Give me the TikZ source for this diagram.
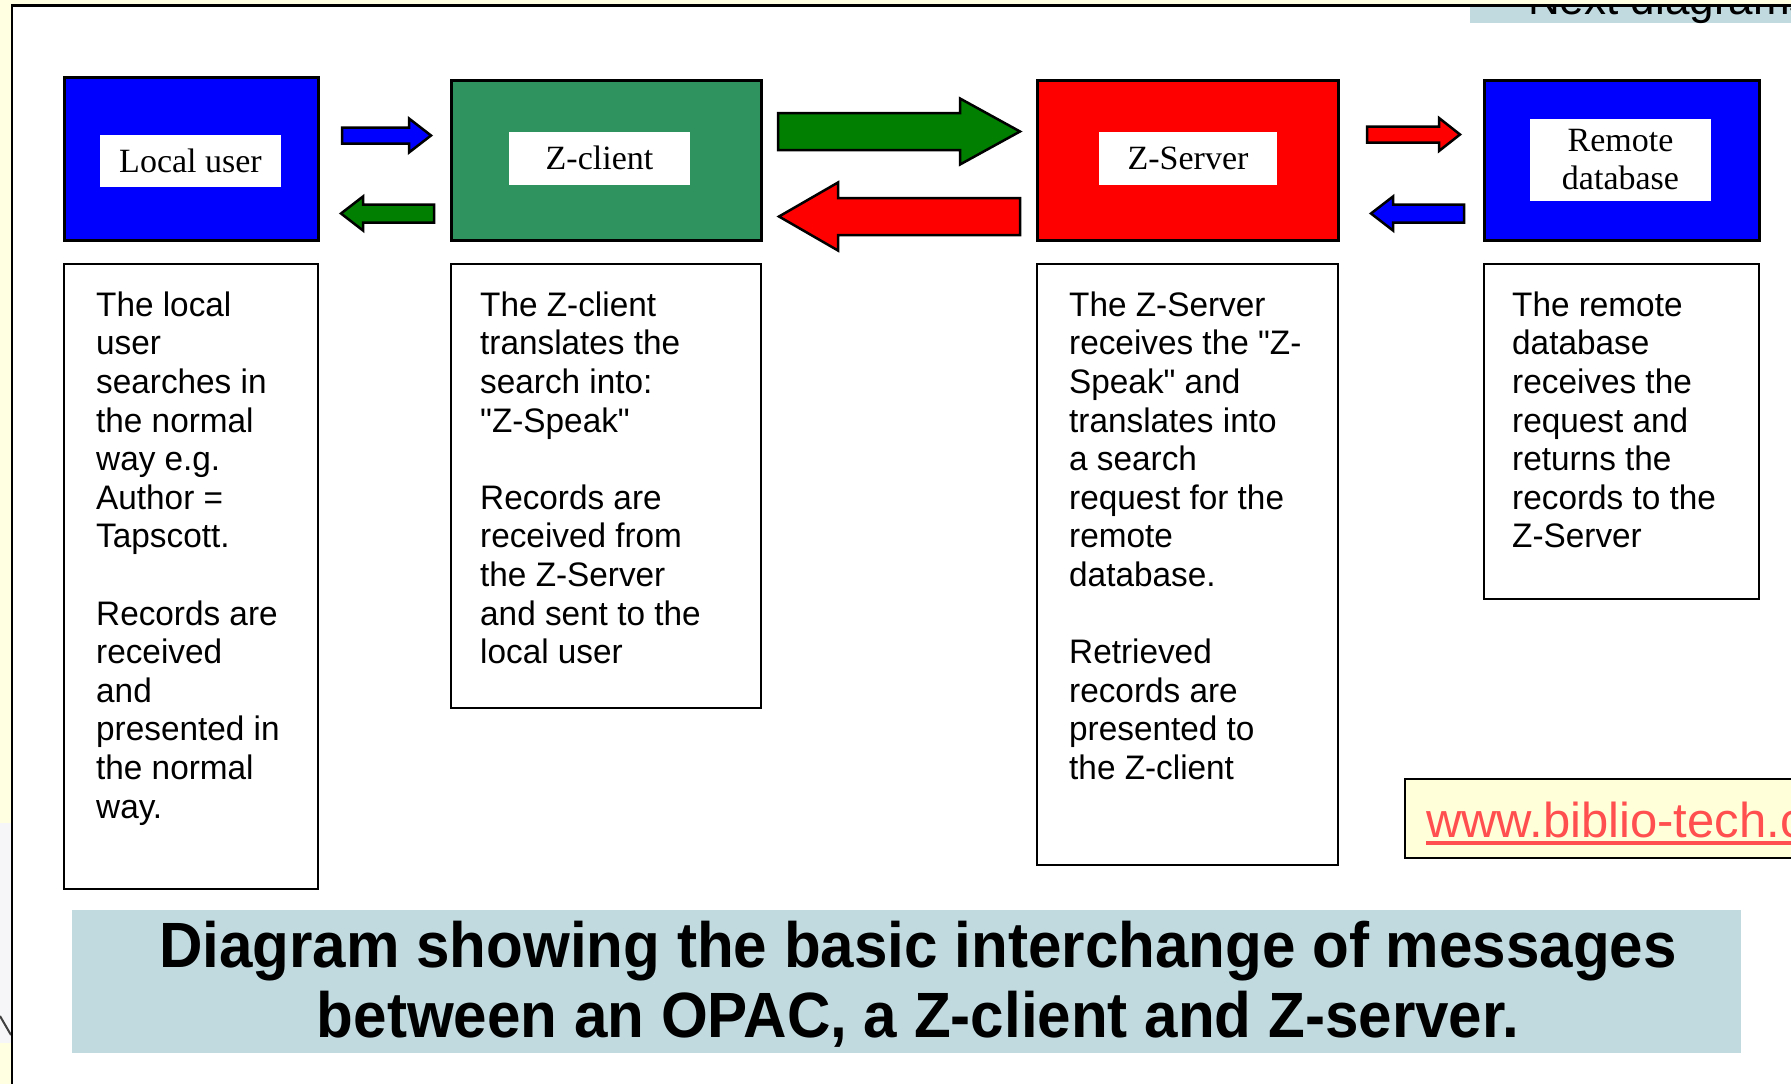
\documentclass[tikz,border=0pt]{standalone}
\usepackage{fontspec}
\setmainfont{Liberation Sans}
\newfontfamily\zbody[FakeStretch=0.98]{Liberation Sans}
\newfontfamily\zlabel{Liberation Serif}
\newfontfamily\ztitle[FakeStretch=0.94]{Liberation Sans}
\definecolor{zcream}{HTML}{FFFFE1}
\definecolor{zgray}{HTML}{F6F6F8}
\definecolor{zblue}{HTML}{0000FF}
\definecolor{zsea}{HTML}{2E935F}
\definecolor{zred}{HTML}{FF0000}
\definecolor{zgreen}{HTML}{007F00}
\definecolor{ztitlebg}{HTML}{C0DAE0}
\definecolor{zurlbg}{HTML}{FFFFDA}
\definecolor{zurl}{HTML}{FF4F4F}
\newcommand{\zarrow}[7]{%
  \draw[blockarrow,fill=#1] (#2,{#5-#6}) -- (#3,{#5-#6}) -- (#3,{#5-#7}) -- (#4,#5)
     -- (#3,{#5+#7}) -- (#3,{#5+#6}) -- (#2,{#5+#6}) -- cycle;}
\begin{document}
\begin{tikzpicture}[x=1pt,y=-1pt,
  colbox/.style={draw=black, line width=3, inner sep=0},
  lblbox/.style={fill=white, inner sep=0, align=center,
     font={\zlabel\fontsize{34}{38}\selectfont}},
  txtbox/.style={draw=black, line width=2.5, fill=white, inner sep=0},
  bodytext/.style={anchor=north west, inner sep=0, align=left,
     font={\zbody\fontsize{34}{38.6}\selectfont}},
  blockarrow/.style={draw=black, line width=2.5, line join=miter},
  titleline/.style={anchor=base, inner sep=0,
     font={\ztitle\bfseries\fontsize{64}{68}\selectfont}}]
\useasboundingbox (0,0) rectangle (1791,1084);
\clip (0,0) rectangle (1791,1084);
% backgrounds
\fill[white] (0,0) rectangle (1791,1084);
\fill[zcream] (0,0) rectangle (1791,5);
\fill[zcream] (0,0) rectangle (12,1084);
\fill[zgray] (0,823) rectangle (11,1043);
\draw[black!75, line width=2] (0,1016) .. controls (6,1026) .. (11,1035);
% "Next diagrams" tab, cut off at the top
\fill[ztitlebg] (1470,6) rectangle (1791,23);
\begin{scope}
  \clip (1470,7) rectangle (1791,30);
  \node[anchor=base west, inner sep=0, font={\fontsize{44}{44}\selectfont}] (next) at (1528,14) {Next diagrams};
\end{scope}
% frame lines
\draw[black, line width=2.5] (12,1084) -- (12,5.5) -- (1791,5.5);
% coloured boxes
\node[colbox, fill=zblue, minimum width=254, minimum height=163] (lu) at (191,158.5) {};
\node[colbox, fill=zsea, minimum width=310, minimum height=160] (zc) at (606,160) {};
\node[colbox, fill=zred, minimum width=301, minimum height=160] (zs) at (1187.5,160) {};
\node[colbox, fill=zblue, minimum width=275, minimum height=160] (rd) at (1621.5,160) {};
% labels
\node[lblbox, minimum width=181, minimum height=52] (lul) at (190.5,161) {Local user};
\node[lblbox, minimum width=181, minimum height=53] (zcl) at (599.5,158) {Z-client};
\node[lblbox, minimum width=178, minimum height=53] (zsl) at (1188,158) {Z-Server};
\node[lblbox, minimum width=181, minimum height=82] (rdl) at (1620.5,160) {Remote\\database};
% block arrows
\zarrow{zblue}{342}{409}{431}{135.5}{8}{17}
\zarrow{zgreen}{434}{363}{341}{213.5}{9}{17}
\zarrow{zgreen}{778}{960}{1020}{131.5}{18.5}{33}
\zarrow{zred}{1020}{838}{779}{216.5}{18.5}{34}
\zarrow{zred}{1367}{1439}{1460}{134.5}{8}{16.5}
\zarrow{zblue}{1464}{1393}{1371}{213.5}{9}{17}
% text boxes
\node[txtbox, minimum width=254, minimum height=625] (t1) at (191,576.5) {};
\node[txtbox, minimum width=310, minimum height=444] (t2) at (606,486) {};
\node[txtbox, minimum width=301, minimum height=601] (t3) at (1187.5,564.5) {};
\node[txtbox, minimum width=275, minimum height=335] (t4) at (1621.5,431.5) {};
\node[bodytext] (t1txt) at (96,291) {\rule{0pt}{25pt}The local\\user\\searches in\\the normal\\way e.g.\\Author =\\Tapscott.\\[38.6pt]Records are\\received\\and\\presented in\\the normal\\way.};
\node[bodytext] (t2txt) at (480,291) {\rule{0pt}{25pt}The Z-client\\translates the\\search into:\\"Z-Speak"\\[38.6pt]Records are\\received from\\the Z-Server\\and sent to the\\local user};
\node[bodytext] (t3txt) at (1069,291) {\rule{0pt}{25pt}The Z-Server\\receives the "Z-\\Speak" and\\translates into\\a search\\request for the\\remote\\database.\\[38.6pt]Retrieved\\records are\\presented to\\the Z-client};
\node[bodytext] (t4txt) at (1512,291) {\rule{0pt}{25pt}The remote\\database\\receives the\\request and\\returns the\\records to the\\Z-Server};
% url box
\draw[fill=zurlbg, line width=2.5] (1405,779) rectangle (1800,858);
\node[anchor=base west, inner sep=0, text=zurl, font={\fontsize{49}{49}\selectfont}] (url) at (1426,837) {www.biblio-tech.com};
\draw[zurl, line width=3.5] ([yshift=-6pt]url.base west) -- ([yshift=-6pt]url.base east);
% title
\fill[ztitlebg] (72,910) rectangle (1741,1053);
\node[titleline] (title1) at (918,967) {Diagram showing the basic interchange of messages};
\node[titleline] (title2) at (918,1037) {between an OPAC, a Z-client and Z-server.};
\end{tikzpicture}
\end{document}
